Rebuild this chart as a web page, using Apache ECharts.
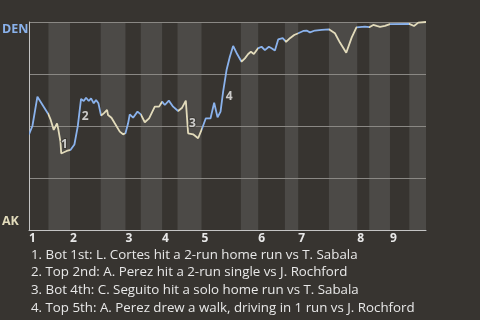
<!DOCTYPE html>
<html><head><meta charset="utf-8">
<script src="https://cdn.jsdelivr.net/npm/echarts@6/dist/echarts.min.js"></script>
<style>html,body{margin:0;padding:0;background:#373430;}#c{width:480px;height:320px;}</style>
</head><body><div id="c"></div>
<script>
// game progress (% of plays) and DEN win probability
const progress = [0,0.86,2.12,4.84,5.47,6.23,7.06,7.36,7.92,8.12,8.57,9.50,10.44,11.44,12.28,13.11,13.79,14.37,15.05,15.63,16.31,16.89,17.49,18.15,18.83,19.66,19.91,20.77,21.60,22.86,23.70,24.30,24.96,25.38,26.22,27.33,28.16,29.17,30.25,31.69,32.77,33.53,34.21,35.22,36.30,37.56,38.57,39.50,40.08,41.34,42.60,43.46,44.54,45.73,46.64,47.49,48.25,48.90,49.76,50.59,51.42,52.43,53.54,54.38,55.21,55.89,56.64,57.65,58.58,59.42,60.42,61.10,61.94,62.77,63.90,64.76,65.72,66.80,67.81,69.07,69.93,70.76,72.02,73.71,75.55,77.06,78.32,79.91,81.27,82.48,82.93,84.62,85.71,86.72,87.57,88.40,89.66,90.93,95.79,96.97,98.06,100];
const denWinProb = [0.46,0.50,0.641,0.558,0.529,0.481,0.512,0.486,0.425,0.368,0.361,0.380,0.385,0.411,0.498,0.630,0.620,0.636,0.620,0.633,0.609,0.625,0.609,0.550,0.561,0.577,0.553,0.540,0.513,0.473,0.460,0.465,0.513,0.556,0.540,0.569,0.556,0.518,0.537,0.593,0.593,0.617,0.601,0.622,0.593,0.572,0.588,0.622,0.465,0.460,0.441,0.481,0.537,0.537,0.612,0.542,0.569,0.665,0.769,0.833,0.885,0.846,0.809,0.825,0.846,0.857,0.846,0.873,0.881,0.865,0.881,0.874,0.863,0.916,0.922,0.904,0.922,0.9375,0.946,0.957,0.959,0.950,0.959,0.9625,0.965,0.946,0.901,0.852,0.925,0.974,0.982,0.978,0.975,0.986,0.981,0.977,0.981,0.990,0.991,0.981,0.997,1.0];
// half-inning start positions (top 1st, bot 1st, top 2nd, ...), plus end
const halfInningStarts = [0,4.89,10.34,18.07,24.3,28.16,33.53,37.41,43.46,53.37,57.73,64.46,67.81,75.55,82.68,85.71,90.93,95.79,100];
const inningLabels = ['1','2','3','4','5','6','7','8','9'];
// key events
const eventX = [8.92,14.12,41.19,50.42];
const eventY = [0.409,0.545,0.51,0.641];
const eventNum = ['1','2','3','4'];
const eventText = [
  '1. Bot 1st: L. Cortes hit a 2-run home run vs T. Sabala',
  '2. Top 2nd: A. Perez hit a 2-run single vs J. Rochford',
  '3. Bot 4th: C. Seguito hit a solo home run vs T. Sabala',
  '4. Top 5th: A. Perez drew a walk, driving in 1 run vs J. Rochford'
];
const teams = ['DEN','AK'];

const BG='#373430', BAND='#4c4a47', BLUE='#8ab2ec', CREAM='#e2dbbb', GRID='#8a8884', AXIS='#c4c4c4', TXT='#e8e8e8';
const FONT='"Open Sans", "Noto Sans", sans-serif';

const lineData = progress.map((p,i)=>[p, denWinProb[i]]);
const bands = [];
for (let i=1;i<halfInningStarts.length-1;i+=2) bands.push([halfInningStarts[i], halfInningStarts[i+1]]);
const pieces = [];
for (let i=0;i<halfInningStarts.length-1;i++){
  const pc = {gte: halfInningStarts[i], color: i%2===0?BLUE:CREAM};
  if (i<halfInningStarts.length-2) pc.lt = halfInningStarts[i+1]; else pc.lte = halfInningStarts[i+1];
  pieces.push(pc);
}
const topStarts = halfInningStarts.filter((v,i)=>i%2===0 && i<halfInningStarts.length-1);

const chart = echarts.init(document.getElementById('c'));
chart.setOption({
  backgroundColor: BG,
  animation: false,
  grid: {left:29, right:54, top:22, bottom:90},
  xAxis: {type:'value', min:0, max:100, z:1,
    axisLine:{show:true, lineStyle:{color:AXIS, width:1}},
    axisTick:{show:false}, splitLine:{show:false},
    axisLabel:{customValues: topStarts, align:'left', margin:3, color:TXT, fontWeight:'bold', fontSize:12, fontFamily:FONT,
      formatter:(v)=>{const k=topStarts.findIndex(t=>Math.abs(t-v)<1e-6); return k>=0?inningLabels[k]:'';}}
  },
  yAxis: {type:'value', min:0, max:1, interval:0.25, z:1,
    axisLine:{show:true, lineStyle:{color:AXIS, width:1}},
    axisTick:{show:false}, axisLabel:{show:false},
    splitLine:{show:true, lineStyle:{color:GRID, width:1}}
  },
  visualMap: {type:'piecewise', show:false, dimension:0, seriesIndex:1, pieces: pieces},
  series: [
    {type:'custom', z:0, silent:true, data: bands, encode:{x:[0,1]},
      renderItem:(params, api)=>{
        const a = api.coord([api.value(0), 1]);
        const b = api.coord([api.value(1), 0]);
        return {type:'rect', shape:{x:a[0], y:a[1], width:b[0]-a[0], height:b[1]-a[1]}, style:{fill:BAND}};
      }},
    {type:'line', z:2, data: lineData, symbol:'none', lineStyle:{width:1.8}},
    {type:'scatter', z:3, symbolSize:0, data: eventX.map((x,i)=>[x, eventY[i], eventNum[i]]),
      label:{show:true, position:'inside', formatter:(p)=>p.data[2], color:'#f0f0f0', fontWeight:'bold', fontSize:12, fontFamily:FONT,
        textBorderColor:BG, textBorderWidth:2}}
  ],
  graphic: [
    {type:'text', left:2, top:23, style:{text:teams[0], fill:BLUE, font:'bold 12.5px '+FONT}},
    {type:'text', left:2, top:215, style:{text:teams[1], fill:CREAM, font:'bold 12.5px '+FONT}},
    {type:'text', left:31, top:246, style:{text:eventText.join('\n'), fill:TXT, font:'13.3px '+FONT, lineHeight:17.7}}
  ]
});
</script></body></html>
